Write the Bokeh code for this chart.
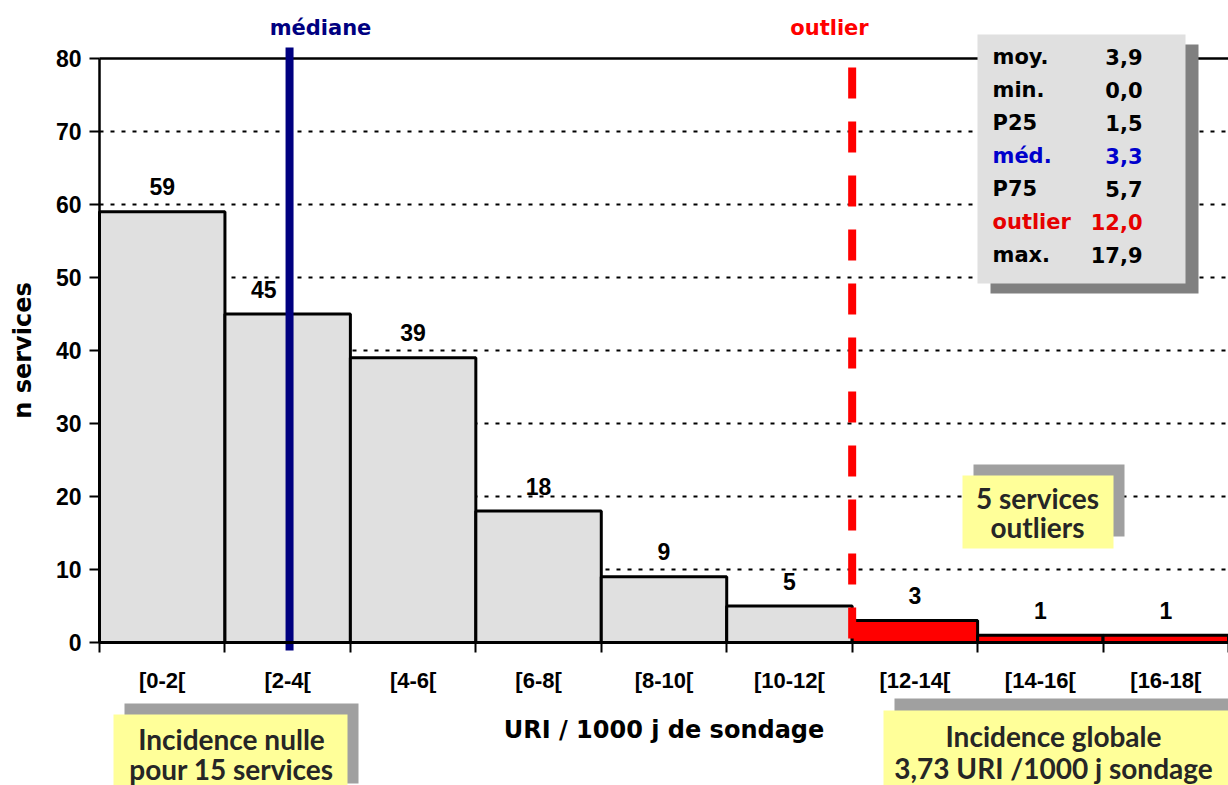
from bokeh.plotting import figure
from bokeh.models import Range1d, FixedTicker, ColumnDataSource, BoxAnnotation, Label, Grid
from bokeh.core.properties import value
from bokeh.embed import file_html
from bokeh.resources import INLINE

# ---------------- data ----------------
bin_edges = [0, 2, 4, 6, 8, 10, 12, 14, 16, 18]
bin_labels = ["[0-2[", "[2-4[", "[4-6[", "[6-8[", "[8-10[", "[10-12[",
              "[12-14[", "[14-16[", "[16-18["]
counts = [59, 45, 39, 18, 9, 5, 3, 1, 1]
median_line_x = 3.03
outlier_x = 12.0
y_ticks = [0, 10, 20, 30, 40, 50, 60, 70, 80]
stat_names = ["moy.", "min.", "P25", "méd.", "P75", "outlier", "max."]
stat_values = ["3,9", "0,0", "1,5", "3,3", "5,7", "12,0", "17,9"]
stat_colors = ["black", "black", "black", "#0000cc", "black", "#e60000", "black"]

W, H = 1228, 785
# pixel geometry of the plotting area (axis origin and scale)
X0PX, Y0PX = 99, 642
PXX = 1129 / 18
PXY = 584 / 80
def dx(sx):
    return (sx - X0PX) / PXX
def dy(sy):
    return (Y0PX - sy) / PXY

ARIAL = "Liberation Sans"
WIDE = "DejaVu Sans"
CAL = "Lato"

p = figure(width=W, height=H, output_backend="svg", toolbar_location=None,
           x_range=Range1d(dx(0), dx(W)), y_range=Range1d(dy(H), dy(0)),
           min_border=0, min_border_left=0, min_border_right=0, min_border_top=0,
           min_border_bottom=0, background_fill_color="white",
           border_fill_color="white", outline_line_color=None)

xmin, xmax = bin_edges[0], bin_edges[-1]
ymin, ymax = y_ticks[0], y_ticks[-1]

# grid
p.xgrid.visible = False
if "cross_bounds" in Grid.properties():
    p.ygrid.ticker = FixedTicker(ticks=y_ticks[1:-1])
    p.ygrid.cross_bounds = (xmin, xmax)
    p.ygrid.grid_line_color = "black"
    p.ygrid.grid_line_dash = "4 7"
    p.ygrid.grid_line_width = 2
else:
    p.ygrid.visible = False
    gy = y_ticks[1:-1]
    p.segment(x0=[xmin] * len(gy), y0=gy, x1=[xmax] * len(gy), y1=gy,
              line_color="black", line_dash="4 7", line_width=2, level="underlay")
p.segment(x0=[xmin], y0=[ymax], x1=[xmax], y1=[ymax], line_color="black", line_width=2.5)

# bars
lefts = bin_edges[:-1]
rights = bin_edges[1:]
centers = [(a + b) // 2 for a, b in zip(lefts, rights)]
fills = ["#ff0000" if l >= outlier_x else "#e0e0e0" for l in lefts]
xoff = [-24 if (l < median_line_x < r) else 0 for l, r in zip(lefts, rights)]
src = ColumnDataSource(dict(left=lefts, right=rights, top=counts, cx=centers,
                            fill=fills, lab=[str(c) for c in counts], xoff=xoff))
p.quad(left="left", right="right", top="top", bottom=0, source=src,
       fill_color="fill", line_color="black", line_width=3)
p.text(x="cx", y="top", text="lab", source=src, x_offset="xoff", y_offset=-25,
       text_align="center", text_baseline="middle", text_font=value(ARIAL),
       text_font_style="bold", text_font_size="23px", text_color="black")

# outlier dashed line and median line
p.segment(x0=[outlier_x], y0=[dy(67)], x1=[outlier_x], y1=[dy(638)],
          line_color="#ff0000", line_width=8, line_dash="31 23")
p.segment(x0=[median_line_x], y0=[dy(650)], x1=[median_line_x], y1=[dy(47)],
          line_color="#000080", line_width=8)

# axes
yax = p.yaxis[0]
yax.fixed_location = xmin
yax.bounds = (ymin, ymax)
yax.ticker = FixedTicker(ticks=y_ticks)
yax.axis_line_width = 2.5
yax.major_tick_line_width = 2
yax.major_tick_out = 10
yax.major_tick_in = 0
yax.minor_tick_line_color = None
yax.major_label_standoff = 8
yax.major_label_text_font = ARIAL
yax.major_label_text_font_style = "bold"
yax.major_label_text_font_size = "23px"
yax.major_label_text_color = "black"
yax.axis_label = "n services"
yax.axis_label_text_font = WIDE
yax.axis_label_text_font_style = "bold"
yax.axis_label_text_font_size = "24px"
yax.axis_label_text_color = "black"
yax.axis_label_standoff = 16

xax = p.xaxis[0]
xax.fixed_location = ymin
xax.bounds = (xmin, xmax)
xax.ticker = FixedTicker(ticks=centers, minor_ticks=bin_edges)
xax.major_label_overrides = {c: t for c, t in zip(centers, bin_labels)}
xax.axis_line_width = 3
xax.major_tick_line_color = None
xax.major_tick_out = 0
xax.major_tick_in = 0
xax.minor_tick_line_color = "black"
xax.minor_tick_line_width = 2
xax.minor_tick_out = 10
xax.minor_tick_in = 0
xax.major_label_standoff = 15
xax.major_label_text_font = ARIAL
xax.major_label_text_font_style = "bold"
xax.major_label_text_font_size = "22px"
xax.major_label_text_color = "black"
xax.axis_label = "URI / 1000 j de sondage"
xax.axis_label_text_font = WIDE
xax.axis_label_text_font_style = "bold"
xax.axis_label_text_font_size = "24px"
xax.axis_label_text_color = "black"
xax.axis_label_standoff = 20

# top labels
p.add_layout(Label(x=dx(320), y=dy(27), text="médiane", text_align="center",
                   text_baseline="middle", text_font=WIDE, text_font_style="bold",
                   text_font_size="21px", text_color="#000080"))
p.add_layout(Label(x=dx(829), y=dy(27), text="outlier", text_align="center",
                   text_baseline="middle", text_font=WIDE, text_font_style="bold",
                   text_font_size="21px", text_color="#ff0000"))

# stats box
p.add_layout(BoxAnnotation(left=dx(990), right=dx(1198), top=dy(44), bottom=dy(293),
                           fill_color="#808080", fill_alpha=1, line_color=None))
p.add_layout(BoxAnnotation(left=dx(977), right=dx(1185), top=dy(34), bottom=dy(283),
                           fill_color="#e0e0e0", fill_alpha=1, line_color=None))
for i, (n, v, c) in enumerate(zip(stat_names, stat_values, stat_colors)):
    sy = 56 + 33 * i
    p.add_layout(Label(x=dx(992), y=dy(sy), text=n, text_align="left",
                       text_baseline="middle", text_font=WIDE, text_font_style="bold",
                       text_font_size="21px", text_color=c))
    p.add_layout(Label(x=dx(1142), y=dy(sy), text=v, text_align="right",
                       text_baseline="middle", text_font=WIDE, text_font_style="bold",
                       text_font_size="21px", text_color=c))

# yellow note boxes
def note(shadow, box, lines, cx, ys, size):
    p.add_layout(BoxAnnotation(left=dx(shadow[0]), right=dx(shadow[1]), top=dy(shadow[2]),
                               bottom=dy(shadow[3]), fill_color="#a0a0a0", fill_alpha=1,
                               line_color=None))
    p.add_layout(BoxAnnotation(left=dx(box[0]), right=dx(box[1]), top=dy(box[2]),
                               bottom=dy(box[3]), fill_color="#ffff99", fill_alpha=1,
                               line_color=None))
    for t, y in zip(lines, ys):
        p.add_layout(Label(x=dx(cx), y=dy(y), text=t, text_align="center",
                           text_baseline="middle", text_font=CAL, text_font_style="bold",
                           text_font_size=size, text_color="#262626"))

note((973, 1124, 464, 536), (962, 1113, 475, 548), ["5 services", "outliers"],
     1037, [497, 526], "28px")
note((124, 358, 703, 783), (113, 347, 714, 785), ["Incidence nulle", "pour 15 services"],
     231, [738, 768], "28px")
note((894, 1228, 698, 785), (883, 1228, 710, 785),
     ["Incidence globale", "3,73 URI /1000 j sondage"], 1053, [735, 767], "28px")

open("out.html", "w").write(file_html(p, INLINE))
